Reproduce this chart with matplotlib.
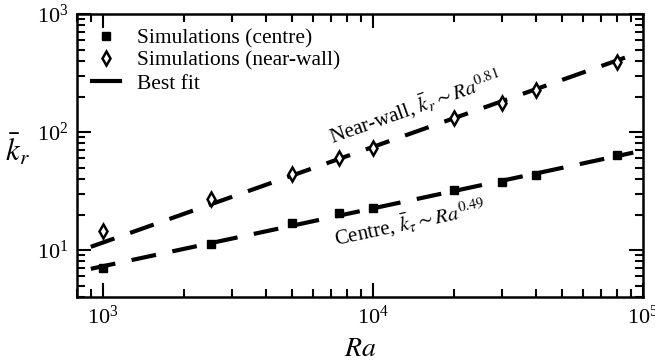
import numpy as np
import matplotlib
matplotlib.use('Agg')
import matplotlib.pyplot as plt

plt.rcParams['font.family'] = ['Liberation Serif', 'DejaVu Serif']
plt.rcParams['mathtext.fontset'] = 'stix'

# Datos
ra = [1000, 2500, 5000, 7500, 10000, 20000, 30000, 40000, 80000]
k_centre = [7.1, 11.2, 17.0, 20.6, 22.5, 32.2, 37.9, 43.2, 63.5]
k_wall = [14.5, 26.9, 43.7, 59.9, 73.6, 130.6, 175, 227, 394]

# Ajustes (prefactor en Ra=1000 y exponente)
fit_ra = [900, 92000]
centre_c, centre_exp = 7.3, 0.49
wall_c, wall_exp = 11.6, 0.81

fig = plt.figure(figsize=(6.55, 3.63), dpi=100)
ax = fig.add_axes([0.1176, 0.1818, 0.8641, 0.7796])

fr = np.array(fit_ra, dtype=float)
ax.plot(fr, centre_c * (fr / 1000) ** centre_exp, color='black', lw=3,
        dashes=(6, 4))
ax.plot(fr, wall_c * (fr / 1000) ** wall_exp, color='black', lw=3,
        dashes=(6, 4))

ax.plot(ra, k_centre, 's', color='black', ms=6, ls='none',
        label='Simulations (centre)')
ax.plot(ra, k_wall, 'd', mfc='white', mec='black', mew=1.8, ms=7.5, ls='none',
        label='Simulations (near-wall)')
ax.plot([], [], color='black', lw=3, label='Best fit')

ax.set_xscale('log')
ax.set_yscale('log')
ax.set_xlim(800, 1e5)
ax.set_ylim(4, 1000)

ax.tick_params(which='both', direction='in', top=True, right=True, width=1.5,
               labelsize=16)
ax.tick_params(which='major', length=10, pad=6)
ax.tick_params(which='minor', length=6)
ax.xaxis.set_minor_formatter(matplotlib.ticker.NullFormatter())
ax.yaxis.set_minor_formatter(matplotlib.ticker.NullFormatter())
for s in ax.spines.values():
    s.set_linewidth(1.8)

ax.set_xlabel('$Ra$', fontsize=20, labelpad=6)
ax.set_ylabel(r'$\bar{k}_r$', fontsize=22, rotation=0)
ax.yaxis.set_label_coords(-0.106, 0.52)
ax.yaxis.label.set_va('center')

ax.legend(loc='upper left', frameon=False, fontsize=15.5, handlelength=1.3,
          bbox_to_anchor=(0, 1.003), borderaxespad=0.3, labelspacing=0.12,
          handletextpad=0.8)

ax.text(14300, 165, r'Near-wall, $\bar{k}_r \sim Ra^{0.81}$', fontsize=15,
        rotation=19.5, ha='center', va='center', rotation_mode='anchor')
ax.text(13700, 17.3, r'Centre, $\bar{k}_\tau \sim Ra^{0.49}$', fontsize=15,
        rotation=12, ha='center', va='center', rotation_mode='anchor')

fig.savefig('out.png', dpi=100)
